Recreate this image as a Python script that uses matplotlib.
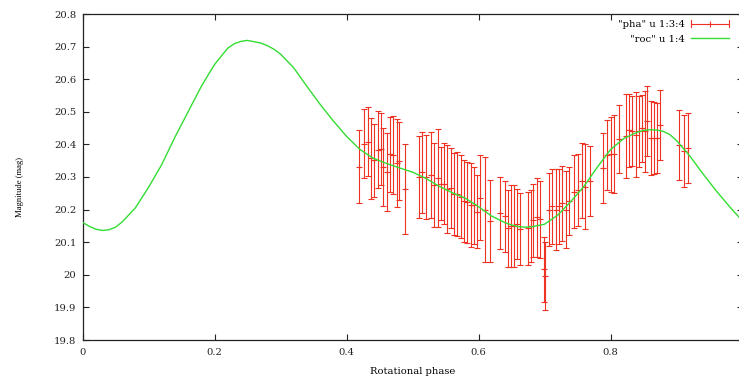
import numpy as np
import matplotlib
matplotlib.use("Agg")
import matplotlib.pyplot as plt
from matplotlib.lines import Line2D
from matplotlib.legend_handler import HandlerBase
from matplotlib.container import ErrorbarContainer
from matplotlib.ticker import FuncFormatter, MultipleLocator

# model light curve ("roc" u 1:4)
curve_phase = [0.00, 0.01, 0.02, 0.03, 0.04, 0.05, 0.06, 0.08, 0.10, 0.12, 0.14, 0.16, 0.18,
               0.20, 0.22, 0.23, 0.24, 0.25, 0.26, 0.27, 0.28, 0.29, 0.30, 0.32, 0.34, 0.36, 0.38,
               0.40, 0.42, 0.44, 0.46, 0.48, 0.50, 0.52, 0.54, 0.56, 0.58,
               0.60, 0.62, 0.64, 0.65, 0.66, 0.67, 0.68, 0.70, 0.72, 0.74, 0.76, 0.78,
               0.80, 0.82, 0.84, 0.85, 0.86, 0.87, 0.88, 0.89, 0.90, 0.92, 0.94, 0.96, 0.98, 1.00]
curve_mag = [20.161, 20.149, 20.140, 20.136, 20.138, 20.146, 20.162, 20.205, 20.268, 20.338,
             20.422, 20.500, 20.578,
             20.645, 20.695, 20.709, 20.716, 20.719, 20.715, 20.711, 20.703, 20.692, 20.677,
             20.635, 20.578, 20.523, 20.472,
             20.425, 20.385, 20.358, 20.342, 20.328, 20.315, 20.296, 20.272, 20.252, 20.235,
             20.209, 20.180, 20.160, 20.153, 20.148, 20.146, 20.147, 20.155, 20.183, 20.225,
             20.272, 20.330,
             20.384, 20.418, 20.437, 20.443, 20.445, 20.444, 20.440, 20.430, 20.412, 20.365,
             20.310, 20.258, 20.210, 20.165]

# observed points ("pha" u 1:3:4): phase, magnitude, error
obs_phase = [0.419, 0.426, 0.433, 0.437, 0.442, 0.447, 0.452, 0.456, 0.461, 0.466,
             0.471, 0.476, 0.480, 0.489,
             0.510, 0.515, 0.520, 0.528, 0.533, 0.538, 0.543, 0.548, 0.553, 0.558,
             0.563, 0.568, 0.573, 0.578, 0.583, 0.588, 0.593, 0.598, 0.603, 0.610, 0.617,
             0.633, 0.640, 0.645, 0.649, 0.654, 0.659, 0.663, 0.675, 0.679, 0.683,
             0.688, 0.693, 0.699, 0.701,
             0.707, 0.712, 0.717, 0.722, 0.727, 0.732, 0.737, 0.745, 0.750, 0.757,
             0.762, 0.769,
             0.789, 0.795, 0.800, 0.805, 0.813, 0.823, 0.828, 0.833, 0.838, 0.843,
             0.848, 0.853, 0.856, 0.861, 0.866, 0.870, 0.875,
             0.904, 0.911, 0.918]
obs_mag = [20.332, 20.402, 20.408, 20.357, 20.352, 20.383, 20.385, 20.330, 20.316, 20.370,
           20.367, 20.342, 20.350, 20.263,
           20.300, 20.314, 20.300, 20.306, 20.275, 20.296, 20.280, 20.280, 20.263, 20.266,
           20.248, 20.248, 20.240, 20.227, 20.222, 20.214, 20.214, 20.194, 20.237, 20.200, 20.165,
           20.190, 20.180, 20.143, 20.150, 20.150, 20.156, 20.140, 20.143, 20.150, 20.167,
           20.176, 20.170, 20.017, 19.996,
           20.199, 20.210, 20.200, 20.210, 20.220, 20.200, 20.227, 20.255, 20.260, 20.288,
           20.270, 20.288,
           20.327, 20.368, 20.370, 20.370, 20.417, 20.426, 20.444, 20.440, 20.430, 20.440,
           20.450, 20.440, 20.471, 20.419, 20.420, 20.420, 20.460,
           20.398, 20.380, 20.390]
obs_err = [0.112, 0.106, 0.106, 0.125, 0.112, 0.118, 0.110, 0.120, 0.120, 0.115,
           0.120, 0.135, 0.120, 0.137,
           0.125, 0.125, 0.130, 0.133, 0.128, 0.150, 0.112, 0.123, 0.135, 0.123,
           0.125, 0.130, 0.128, 0.125, 0.125, 0.128, 0.118, 0.112, 0.130, 0.160, 0.125,
           0.110, 0.109, 0.118, 0.125, 0.126, 0.106, 0.110, 0.112, 0.110, 0.113,
           0.120, 0.118, 0.100, 0.105,
           0.112, 0.115, 0.125, 0.115, 0.115, 0.118, 0.105, 0.112, 0.110, 0.115,
           0.130, 0.108,
           0.107, 0.107, 0.115, 0.120, 0.105, 0.130, 0.112, 0.107, 0.130, 0.110,
           0.103, 0.125, 0.108, 0.113, 0.110, 0.107, 0.107,
           0.107, 0.110, 0.107]

red = "#ee3322"
green = "#33dd33"

plt.rcParams["font.family"] = "DejaVu Serif"
plt.rcParams["font.size"] = 7.2


# gnuplot style key sample for error bars: horizontal bar with end caps and a +
class HandlerGnuErr(HandlerBase):
    def create_artists(self, legend, orig_handle, xdescent, ydescent,
                       width, height, fontsize, trans):
        y = height / 2 - ydescent
        x0, x1 = -xdescent, width - xdescent
        c = 2.2
        bar = Line2D([x0, x1], [y, y], color=red, lw=0.8)
        caps = Line2D([x0, x0, np.nan, x1, x1], [y - c, y + c, np.nan, y - c, y + c],
                      color=red, lw=0.8)
        plus = Line2D([(x0 + x1) / 2], [y], marker="+", ms=4, mew=0.8, color=red)
        for a in (bar, caps, plus):
            a.set_transform(trans)
        return [bar, caps, plus]


fig = plt.figure(figsize=(7.39, 3.83), dpi=100)
ax = fig.add_axes([82.5 / 739, 43 / 383, 660 / 739, 326 / 383])

eb = ax.errorbar(obs_phase, obs_mag, yerr=obs_err, fmt="+", color=red, ms=4, mew=0.8,
                 elinewidth=0.8, capsize=2.2, capthick=0.8, zorder=2,
                 label='"pha" u 1:3:4')
ln, = ax.plot(curve_phase, curve_mag, color=green, lw=1.0, zorder=3,
              label='"roc" u 1:4')

ax.set_xlim(0, 1)
ax.set_ylim(19.8, 20.8)
ax.xaxis.set_major_locator(MultipleLocator(0.2))
ax.yaxis.set_major_locator(MultipleLocator(0.1))
ax.xaxis.set_major_formatter(FuncFormatter(lambda v, p: "%g" % round(v, 3)))
ax.yaxis.set_major_formatter(FuncFormatter(lambda v, p: "%g" % round(v, 3)))
ax.tick_params(direction="in", length=4.5, width=0.8, top=True, right=True,
               colors="#222222")
ax.tick_params(axis="x", pad=6)
ax.tick_params(axis="y", pad=4.5)
for s in ax.spines.values():
    s.set_linewidth(0.9)
    s.set_color("#222222")

ax.set_xlabel("Rotational phase")
ax.set_ylabel("Magnitude (mag)", family="Liberation Serif", fontsize=6.2)
ax.xaxis.set_label_coords(0.5, -0.098)
ax.xaxis.label.set_va("center")
ax.yaxis.set_label_coords(-0.094, 0.47)
ax.yaxis.label.set_va("center")

leg = ax.legend([eb, ln], ['"pha" u 1:3:4', '"roc" u 1:4'],
                handler_map={ErrorbarContainer: HandlerGnuErr()},
                loc="upper right", bbox_to_anchor=(729 / 739, 1 - 20 / 383),
                bbox_transform=fig.transFigure, frameon=False, markerfirst=False,
                handlelength=3.8, handletextpad=0.6, borderpad=0, borderaxespad=0,
                labelspacing=0.55)
for col in leg._legend_handle_box.get_children():
    col.align = "right"

fig.savefig("out.png", dpi=100)
